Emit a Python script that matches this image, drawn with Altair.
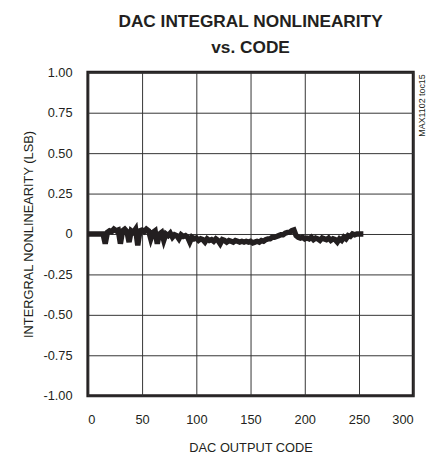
import altair as alt
import pandas as pd

codes = list(range(0, 256, 2))
inl = [
    0, 0, 0, 0, 0, 0, 0, 0,
    -0.06, 0.01, 0.02, 0.015, 0.03, 0.02, 0.025, -0.06, 0.02, 0.03, 0.015, -0.05,
    0.02, 0.01, 0.03, -0.07, 0.02, 0.025, 0.015, 0.03, 0.02, -0.03, 0.01, 0.02,
    -0.06, 0.0, 0.01, -0.04, 0.0, -0.01, 0.005, -0.02, -0.005, -0.01, -0.03, -0.005,
    -0.015, -0.01, -0.02, -0.05, -0.02, -0.03, -0.025, -0.04, -0.03, -0.035, -0.05, -0.03,
    -0.04, -0.035, -0.045, -0.03, -0.04, -0.06, -0.035, -0.04, -0.05, -0.04, -0.045, -0.05,
    -0.04, -0.045, -0.05, -0.045, -0.05, -0.045, -0.05, -0.045, -0.055, -0.05, -0.045, -0.05,
    -0.04, -0.045, -0.035, -0.03, -0.03, -0.02, -0.02, -0.015, -0.01, -0.005, -0.005, 0.005,
    0.01, 0.01, 0.02, 0.025, -0.01, -0.02, -0.025, -0.02, -0.03, -0.025, -0.03, -0.02,
    -0.035, -0.025, -0.03, -0.04, -0.025, -0.03, -0.035, -0.025, -0.04, -0.03, -0.035, -0.05,
    -0.03, -0.04, -0.02, -0.03, -0.01, -0.015, 0.0, -0.005, 0.0, 0.0, 0.0, 0.0,
]
assert len(codes) == len(inl)

x_ticks = [0, 50, 100, 150, 200, 250, 300]
y_ticks = [-1.0, -0.75, -0.5, -0.25, 0, 0.25, 0.5, 0.75, 1.0]

df = pd.DataFrame({"code": codes, "inl": inl})

FONT = "Liberation Sans"
INK = "#231f20"
W, H = 330, 328

line = alt.Chart(df).mark_line(color=INK, strokeWidth=5.5, strokeJoin="miter").encode(
    x=alt.X("code:Q", scale=alt.Scale(domain=[0, 300], nice=False),
            axis=alt.Axis(values=x_ticks, title="DAC OUTPUT CODE", grid=True,
                          ticks=False, domain=False, labelPadding=18, titlePadding=16)),
    y=alt.Y("inl:Q", scale=alt.Scale(domain=[-1, 1], nice=False),
            axis=alt.Axis(values=y_ticks, title="INTERGRAL NONLINEARITY (LSB)", grid=True,
                          ticks=False, domain=False, labelPadding=16, titlePadding=8,
                          labelExpr="datum.value == 0 ? '0' : (datum.value < 0 ? '-' + format(-datum.value, '.2f') : format(datum.value, '.2f'))")),
)

note = alt.Chart(pd.DataFrame({"t": ["MAX1102 toc15"]})).mark_text(
    angle=270, align="right", baseline="middle", fontSize=9, font=FONT, color=INK
).encode(x=alt.value(338.5), y=alt.value(2), text="t:N")

chart = (line + note).properties(
    width=W, height=H,
    autosize=alt.AutoSizeParams(type="none"),
    padding={"left": 81, "top": 62, "right": 17, "bottom": 62},
    title=alt.TitleParams(["DAC INTEGRAL NONLINEARITY", "vs. CODE"], font=FONT,
                          fontSize=17.5, fontWeight="bold", color=INK,
                          lineHeight=26, offset=10, anchor="middle"),
).configure_view(stroke=INK, strokeWidth=3).configure_axis(
    labelFont=FONT, titleFont=FONT, labelFontSize=13, titleFontSize=13,
    labelColor=INK, titleColor=INK, titleFontWeight="normal",
    gridColor="#333333", gridWidth=1, gridOpacity=1,
)

chart.save("out.html", embed_options={"renderer": "svg", "actions": False})
